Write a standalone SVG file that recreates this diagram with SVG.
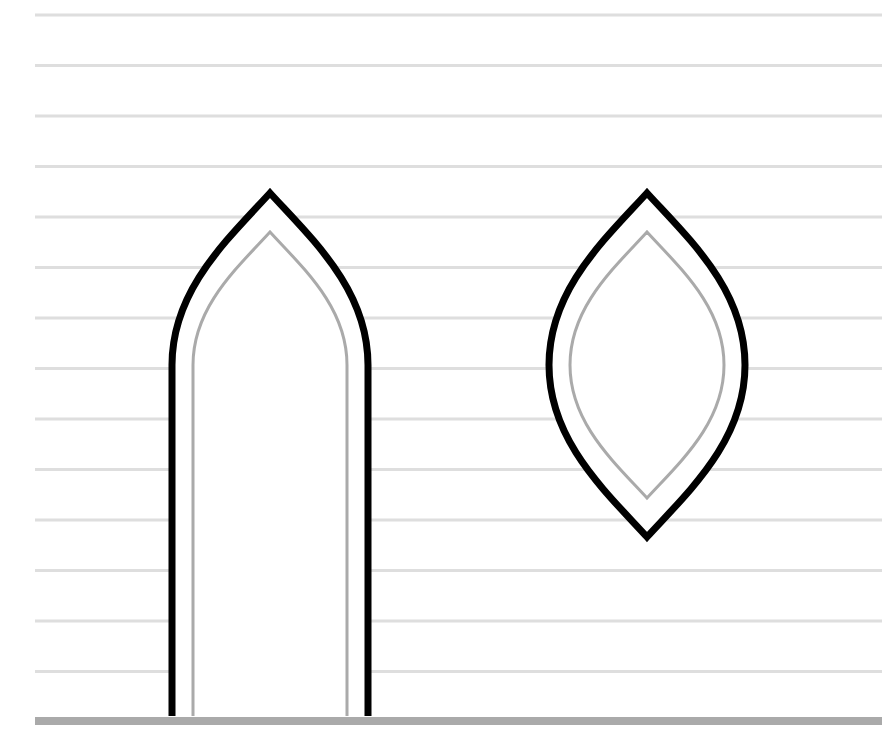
<svg xmlns="http://www.w3.org/2000/svg" width="882" height="731" viewBox="0 0 882 731">
<style>
.rule{stroke:#dedede;stroke-width:3;fill:none}
.base{stroke:#aaaaaa;stroke-width:8;fill:none}
.outer{stroke:#000;stroke-width:7;fill:none;stroke-linejoin:miter;stroke-miterlimit:20}
.inner{stroke:#aaaaaa;stroke-width:3;fill:none;stroke-linejoin:miter;stroke-miterlimit:20}
.fill{fill:#fff;stroke:none}
</style>
<rect width="882" height="731" fill="#fff"/>
<g id="rules">
<line class="rule" x1="35" y1="15" x2="882" y2="15"/>
<line class="rule" x1="35" y1="65.5" x2="882" y2="65.5"/>
<line class="rule" x1="35" y1="116" x2="882" y2="116"/>
<line class="rule" x1="35" y1="166.5" x2="882" y2="166.5"/>
<line class="rule" x1="35" y1="217" x2="882" y2="217"/>
<line class="rule" x1="35" y1="267.5" x2="882" y2="267.5"/>
<line class="rule" x1="35" y1="318" x2="882" y2="318"/>
<line class="rule" x1="35" y1="368.5" x2="882" y2="368.5"/>
<line class="rule" x1="35" y1="419" x2="882" y2="419"/>
<line class="rule" x1="35" y1="469.5" x2="882" y2="469.5"/>
<line class="rule" x1="35" y1="520" x2="882" y2="520"/>
<line class="rule" x1="35" y1="570.5" x2="882" y2="570.5"/>
<line class="rule" x1="35" y1="621" x2="882" y2="621"/>
<line class="rule" x1="35" y1="671.5" x2="882" y2="671.5"/>
</g>
<g id="arch">
<path class="fill" d="M172,717 L172,365 C172,290 227,240 270,193 C313,240 368,290 368,365 L368,717 Z"/>
<path class="outer" d="M172,716 L172,365 C172,290 227,240 270,193 C313,240 368,290 368,365 L368,716"/>
<path class="inner" d="M193,716 L193,365 C193,307 237,268 270,232 C303,268 347,307 347,365 L347,716"/>
</g>
<g id="lens">
<path class="fill" d="M647,193 C690,240 745,290 745,365 C745,440 690,490 647,537 C604,490 549,440 549,365 C549,290 604,240 647,193 Z"/>
<path class="outer" d="M647,193 C690,240 745,290 745,365 C745,440 690,490 647,537 C604,490 549,440 549,365 C549,290 604,240 647,193 Z"/>
<path class="inner" d="M647,232 C680,268 724,307 724,365 C724,423 680,462 647,498 C614,462 570,423 570,365 C570,307 614,268 647,232 Z"/>
</g>
<g id="baseline">
<line class="base" x1="35" y1="721" x2="882" y2="721"/>
</g>
</svg>
